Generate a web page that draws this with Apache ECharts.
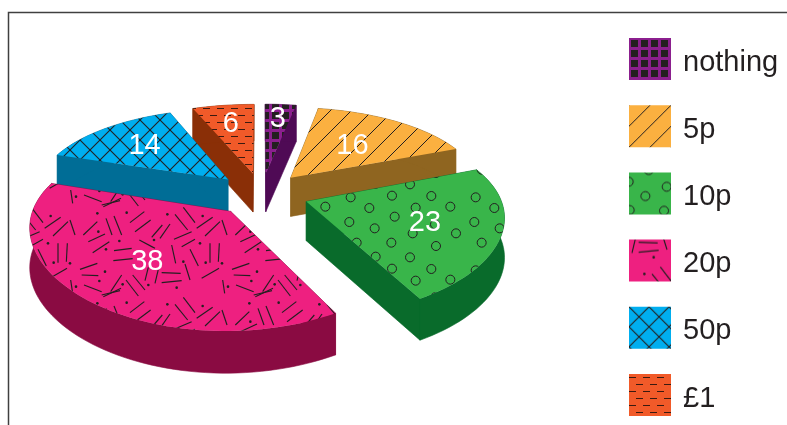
<!DOCTYPE html>
<html>
<head>
<meta charset="utf-8">
<style>html,body{margin:0;padding:0;background:#fff}#chart{width:787px;height:425px}</style>
<script src="https://cdn.jsdelivr.net/npm/echarts@6/dist/echarts.min.js"></script>
</head>
<body>
<div id="chart"></div>
<script>
// Pocket money survey: share of pupils by coin amount
const categories = ['nothing', '5p', '10p', '20p', '50p', '£1'];
const shares = [3, 16, 23, 38, 14, 6];
const total = shares.reduce((a, b) => a + b, 0);

const topColors = ['#8b1f8e', '#fbb040', '#39b54a', '#ee2080', '#00aeef', '#f15a29'];
const wallColors = ['#4f0a55', '#8f6520', '#096b2b', '#8a0b42', '#006d96', '#8a2f07'];
const paintOrder = [0, 5, 4, 1, 2, 3];
const labelReach = [0.78, 0.56, 0.62, 0.60, 0.66, 0.72];

// Pie geometry: ground-plane disc seen in perspective
const INK = '#231f20';
const view = {
  cx: 261.5, cy: 194, radius: 193, explode: 47, tilt: 0.463,
  perspY: 0.19, perspX: 0.14, depth: 39, depthGrowth: 0.3, labelDrop: 1.5
};

function project(x, y) {
  const n = y / view.radius;
  const sy = 1 / (1 - view.perspY * n);
  const sx = 1 / (1 - view.perspX * n);
  return [view.cx + x * sx, view.cy + y * view.tilt * sy, view.depth * Math.pow(sy, view.depthGrowth)];
}

function makeTile(w, h, bg, paint) {
  const c = document.createElement('canvas');
  c.width = w; c.height = h;
  const g = c.getContext('2d');
  g.fillStyle = bg;
  g.fillRect(0, 0, w, h);
  paint(g, w, h);
  return { image: c, repeat: 'repeat' };
}

// Runs a drawing routine at every wrapped copy so marks continue across tile seams
function wrapped(g, w, h, fn) {
  for (const ox of [-w, 0, w]) for (const oy of [-h, 0, h]) fn(ox, oy);
}

// Texture strokes below are in third-of-a-pixel units
const speckleOrigin = [20, 180];
const speckleDashes = [
  [250,80,303,55],[330,128,373,95],[345,155,392,120],[258,115,276,165],[282,108,305,165],
  [190,165,232,125],[205,185,255,162],[218,218,268,185],[282,212,335,205],[280,242,338,236],
  [358,180,405,205],[395,172,427,135],[420,175,450,132],[465,103,503,150],[490,82,525,128],
  [530,145,578,112],[555,168,600,125],[462,178,515,155],[485,200,525,178],[455,195,467,250],
  [510,208,535,258],[495,252,510,300],[545,295,597,265],[570,190,570,248],[598,190,595,245],
  [425,278,482,280],[425,308,485,302],[375,302,385,262],[405,310,415,268],[338,285,375,330],
  [318,300,355,348],[272,335,305,285],[180,268,232,250],[185,285,235,287],[192,315,245,335],
  [245,345,300,332],[152,300,158,340],[150,120,165,165]
];
const speckleDots = [
  [235,155],[298,183],[258,208],[320,98],[232,100],[442,103],[402,180],[548,108],[540,190],
  [490,245],[557,248],[255,275],[238,303],[308,313],[385,315],[470,323],[168,320],[150,250]
];
const ringOrigin = [290, 140];
const ringCentres = [
  [182,172],[238,204],[306,167],[377,203],[424,168],[481,200],[178,246],[254,265],[314,230],
  [368,280],[435,253],[498,280],[200,308],[304,308],[360,352],[438,318],[257,350]
];

const patterns = [
  // nothing: woven grid
  makeTile(10, 10, topColors[0], g => { g.fillStyle = INK; g.fillRect(2, 2, 7, 7); }),
  // 5p: single diagonal hatch
  makeTile(21, 21, topColors[1], (g, w) => {
    g.strokeStyle = INK; g.lineWidth = 1;
    for (const k of [-w, 0, w]) {
      g.beginPath(); g.moveTo(k, w); g.lineTo(k + w, 0); g.stroke();
    }
  }),
  // 10p: scattered rings
  makeTile(125, 73, topColors[2], (g, w, h) => {
    g.strokeStyle = INK; g.lineWidth = 1;
    ringCentres.forEach(([zx, zy]) => {
      const x = ringOrigin[0] + zx / 3, y = ringOrigin[1] + zy / 3;
      wrapped(g, w, h, (ox, oy) => {
        g.beginPath();
        g.arc(((x % w) + w) % w + ox, ((y % h) + h) % h + oy, 4.5, 0, Math.PI * 2);
        g.stroke();
      });
    });
  }),
  // 20p: random-looking dashes and dots
  makeTile(152, 90, topColors[3], (g, w, h) => {
    g.strokeStyle = INK; g.fillStyle = INK; g.lineWidth = 1.15;
    speckleDashes.forEach(([a, b, c, d]) => {
      const x = speckleOrigin[0] + a / 3, y = speckleOrigin[1] + b / 3;
      const tx = ((x % w) + w) % w, ty = ((y % h) + h) % h;
      wrapped(g, w, h, (ox, oy) => {
        g.beginPath();
        g.moveTo(tx + ox, ty + oy);
        g.lineTo(tx + ox + (c - a) / 3, ty + oy + (d - b) / 3);
        g.stroke();
      });
    });
    speckleDots.forEach(([a, b]) => {
      const x = speckleOrigin[0] + a / 3, y = speckleOrigin[1] + b / 3;
      g.beginPath();
      g.arc(((x % w) + w) % w, ((y % h) + h) % h, 1.3, 0, Math.PI * 2);
      g.fill();
    });
  }),
  // 50p: cross hatch
  makeTile(20, 20, topColors[4], (g, w) => {
    g.strokeStyle = INK; g.lineWidth = 1.1;
    g.beginPath(); g.moveTo(-1, -1); g.lineTo(w + 1, w + 1); g.stroke();
    g.beginPath(); g.moveTo(-1, w + 1); g.lineTo(w + 1, -1); g.stroke();
  }),
  // £1: staggered dashes
  makeTile(14, 14, topColors[5], g => {
    g.fillStyle = '#3a1a10';
    g.fillRect(0, 3, 7, 1);
    g.fillRect(7, 10, 7, 1);
  })
];

// One wedge: walls first, then the patterned top, then its value
function renderWedge(params, api) {
  const i = params.seriesIndex;
  const startShare = api.value(0), share = api.value(1);
  const a0 = startShare / total * Math.PI * 2;
  const a1 = (startShare + share) / total * Math.PI * 2;
  const mid = (a0 + a1) / 2;
  const ox = view.explode * Math.sin(mid), oy = -view.explode * Math.cos(mid);
  const world = (a, r) => [ox + r * Math.sin(a), oy - r * Math.cos(a)];

  const rim = [];
  const steps = Math.max(2, Math.ceil((a1 - a0) / (Math.PI / 90)));
  for (let k = 0; k <= steps; k++) {
    const w = world(a0 + (a1 - a0) * k / steps, view.radius);
    rim.push(project(w[0], w[1]));
  }
  const hubWorld = world(0, 0);
  const hub = project(hubWorld[0], hubWorld[1]);
  const down = p => [p[0], p[1] + p[2]];
  const flat = p => [p[0], p[1]];
  const wallStyle = { fill: wallColors[i], stroke: wallColors[i], lineWidth: 0.6 };

  const last = rim[rim.length - 1];
  const children = [
    { type: 'polygon', shape: { points: [flat(hub), flat(rim[0]), down(rim[0]), down(hub)] }, style: wallStyle },
    { type: 'polygon', shape: { points: [flat(hub), flat(last), down(last), down(hub)] }, style: wallStyle },
    { type: 'polygon', shape: { points: rim.map(flat).concat(rim.map(down).reverse()) }, style: wallStyle },
    { type: 'polygon', shape: { points: [flat(hub)].concat(rim.map(flat)) }, style: { fill: patterns[i] } }
  ];

  const lw = world(mid, view.radius * labelReach[i]);
  const lp = project(lw[0], lw[1]);
  children.push({
    type: 'text',
    style: {
      text: String(share), x: lp[0], y: lp[1] + view.labelDrop, fill: '#fff',
      font: '29px "Liberation Sans", Arial, sans-serif', align: 'center', verticalAlign: 'middle'
    }
  });
  return { type: 'group', children };
}

let running = 0;
const series = categories.map((name, i) => {
  const start = running;
  running += shares[i];
  return {
    type: 'custom',
    name,
    coordinateSystem: 'none',
    z: 2 + paintOrder.indexOf(i),
    silent: true,
    itemStyle: { color: topColors[i] },
    data: [[start, shares[i]]],
    renderItem: renderWedge
  };
});

const chart = echarts.init(document.getElementById('chart'), null, { renderer: 'canvas' });
chart.setOption({
  animation: false,
  backgroundColor: '#fff',
  legend: {
    orient: 'vertical',
    left: 629,
    top: 38,
    padding: 0,
    itemWidth: 42,
    itemHeight: 42,
    itemGap: 25.2,
    selectedMode: false,
    formatter: '{t|{name}}',
    textStyle: {
      rich: {
        t: {
          color: INK,
          fontFamily: '"Liberation Sans", Arial, sans-serif',
          fontSize: 29,
          padding: [7, 0, 0, 7]
        }
      }
    },
    data: categories.map((name, i) => ({ name, icon: 'rect', itemStyle: { color: patterns[i] } }))
  },
  graphic: [{
    type: 'polyline',
    silent: true,
    shape: { points: [[8.5, 425], [8.5, 12.5], [787, 12.5]] },
    style: { stroke: '#404040', lineWidth: 1.5, fill: null }
  }],
  series
});
</script>
</body>
</html>
